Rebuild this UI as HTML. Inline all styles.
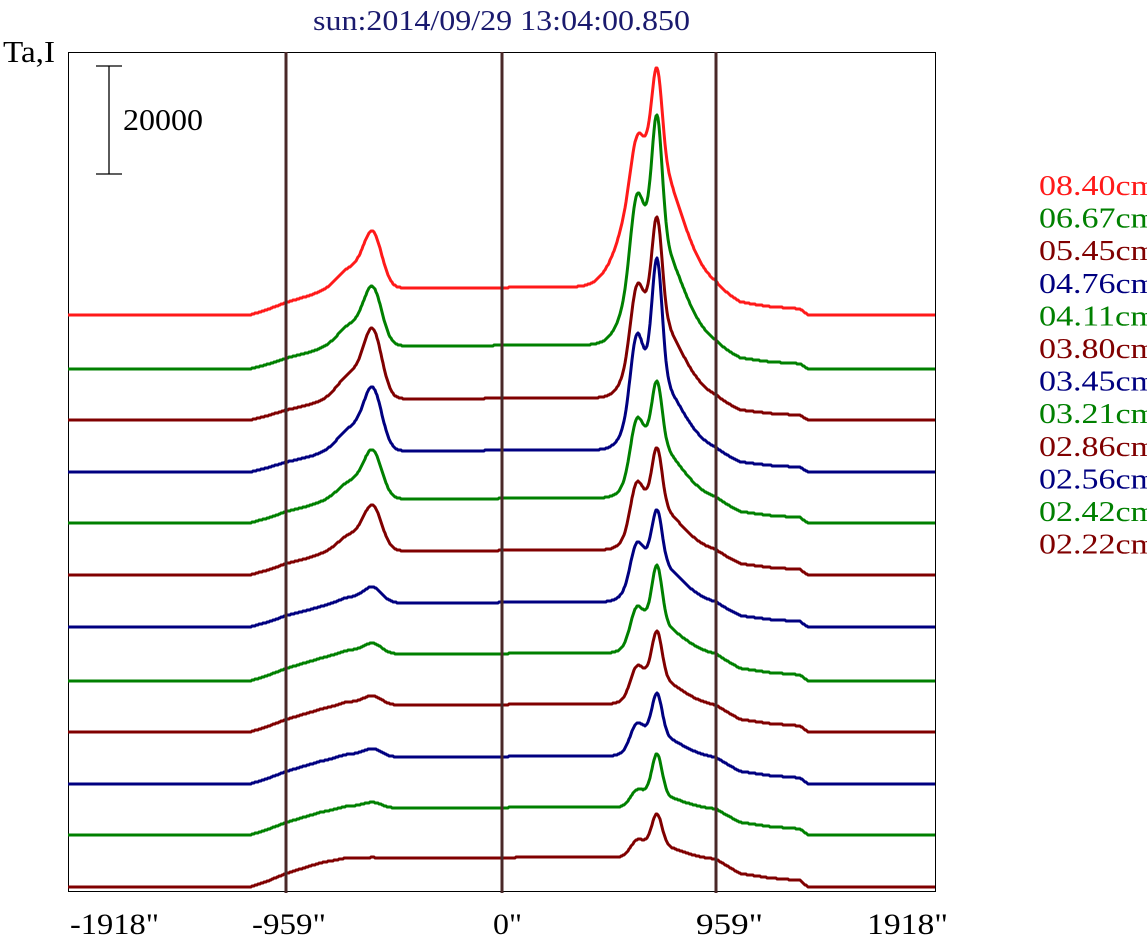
<!DOCTYPE html>
<html><head><meta charset="utf-8"><style>
html,body{margin:0;padding:0;background:#fff;overflow:hidden}
svg{display:block}
text{font-family:"Liberation Serif",serif}
</style></head><body>
<svg id="s" width="1147" height="941" xmlns="http://www.w3.org/2000/svg">
<rect x="0" y="0" width="1147" height="941" fill="#fff"/>
<text x="313" y="30" font-size="28" fill="#1a1a6e" textLength="377" lengthAdjust="spacingAndGlyphs">sun:2014/09/29 13:04:00.850</text>
<text x="3" y="62" font-size="31" fill="#000" textLength="52" lengthAdjust="spacingAndGlyphs">Ta,I</text>
<rect x="68.5" y="52.5" width="867" height="839" fill="none" stroke="#000" stroke-width="1"/>
<line x1="109" y1="66" x2="109" y2="174" stroke="#000" stroke-width="1.3"/>
<line x1="96" y1="66" x2="122" y2="66" stroke="#000" stroke-width="1.3"/>
<line x1="96" y1="174" x2="122" y2="174" stroke="#000" stroke-width="1.3"/>
<text x="123" y="130" font-size="31" fill="#000" textLength="80" lengthAdjust="spacingAndGlyphs">20000</text>
<g id="curves"></g>
<g stroke="#4a2828" stroke-width="3">
<line x1="286" y1="52" x2="286" y2="893"/>
<line x1="502" y1="52" x2="502" y2="893"/>
<line x1="716" y1="52" x2="716" y2="893"/>
</g>
<g font-size="30" fill="#000">
<text x="70" y="934" textLength="89" lengthAdjust="spacingAndGlyphs">-1918"</text>
<text x="252" y="934" textLength="74" lengthAdjust="spacingAndGlyphs">-959"</text>
<text x="493" y="934" textLength="29" lengthAdjust="spacingAndGlyphs">0"</text>
<text x="696" y="934" textLength="67" lengthAdjust="spacingAndGlyphs">959"</text>
<text x="867" y="934" textLength="81" lengthAdjust="spacingAndGlyphs">1918"</text>
</g>
<g id="leg" font-size="28"></g>
</svg>
<script>
var R="#ff1a1a",G="#008000",D="#800000",B="#000080";
var T=[
[315,R,28,67,35,85,140,22],
[369,G,24,70,60,115,120,18],
[420,D,22,83,50,95,90,16],
[472,B,22,75,60,115,80,16],
[523,G,25,58,40,60,60,15],
[575,D,25,54,35,55,50,15],
[627,B,25,19,30,50,45,15],
[681,G,28,13,25,55,35,14],
[732,D,28,11,20,45,30,14],
[784,B,28,10,18,40,25,14],
[835,G,28,7,10,40,15,12],
[887,D,30,1,10,30,15,12]];
function lerp(pts,x){for(var i=0;i<pts.length-1;i++){if(x>=pts[i][0]&&x<=pts[i+1][0]){var t=(x-pts[i][0])/(pts[i+1][0]-pts[i][0]);return pts[i][1]+t*(pts[i+1][1]-pts[i][1]);}}return 0;}
var plat=[[68,0],[250,0],[268,0.2],[286,0.45],[320,0.8],[345,0.95],[600,1],[716,0.9],[740,0.45],[770,0.3],[800,0.22],[808,0],[935,0]];
function g(x,c,s){return Math.exp(-(x-c)*(x-c)/(2*s*s));}
var h="";
T.forEach(function(t){
 var d="";
 for(var x=68;x<=935;x++){
  var v=t[2]*lerp(plat,x)+t[3]*(0.75*g(x,373,9)+0.3*g(x,352,14))
   +t[6]*g(x,650,x<650?t[7]:28)+t[4]*g(x,636,6)+t[5]*g(x,657,5);
  var y=Math.round(t[0]-v);
  d+=(x==68?"M":"L")+x+","+y;
 }
 h+='<path d="'+d+'" fill="none" stroke="'+t[1]+'" stroke-width="3" stroke-linejoin="round"/>';
});
document.getElementById("curves").innerHTML=h;
var L=[["08.40cm",R],["06.67cm",G],["05.45cm",D],["04.76cm",B],["04.11cm",G],["03.80cm",D],["03.45cm",B],["03.21cm",G],["02.86cm",D],["02.56cm",B],["02.42cm",G],["02.22cm",D]];
var s="";
L.forEach(function(l,i){s+='<text x="1039" y="'+(195+i*32.6)+'" fill="'+l[1]+'" textLength="118" lengthAdjust="spacingAndGlyphs">'+l[0]+'</text>';});
document.getElementById("leg").innerHTML=s;
</script>
</body></html>
